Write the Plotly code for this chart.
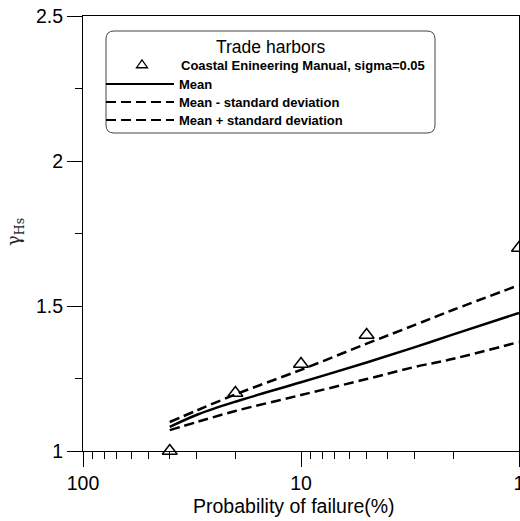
import plotly.graph_objects as go

# Observed safety factors for trade harbors
obs_prob = [40, 20, 10, 5, 1]          # probability of failure (%)
obs_gamma = [1.0, 1.2, 1.3, 1.4, 1.7]

# Fitted partial safety factor curves
fit_prob = [40, 30, 20, 10, 5, 3, 2, 1]
fit_mean = [1.083, 1.125, 1.17, 1.237, 1.305, 1.358, 1.402, 1.476]
fit_lower = [1.072, 1.10, 1.138, 1.193, 1.248, 1.29, 1.318, 1.376]
fit_upper = [1.10, 1.14, 1.195, 1.28, 1.37, 1.435, 1.487, 1.572]

x_tickvals = [100, 10, 1]
x_ticktext = ["100", "10", "1"]
x_minor = [90, 80, 70, 60, 50, 40, 30, 20, 9, 8, 7, 6, 5, 4, 3, 2]
y_tickvals = [1, 1.5, 2, 2.5]
y_ticktext = ["1", "1.5", "2", "2.5"]
y_minor = [1.25, 1.75, 2.25]

legend_title = "Trade harbors"
legend_labels = ["Coastal Enineering Manual, sigma=0.05", "Mean",
                 "Mean - standard deviation", "Mean + standard deviation"]

FONT = "Liberation Sans, Arial, sans-serif"
W, H = 520, 521
L, R, T, B = 83, 1, 16, 70
PW, PH = W - L - R, H - T - B


def px(x):
    return (x - L) / PW


def py(y):
    return (H - B - y) / PH


fig = go.Figure()

fig.add_trace(go.Scatter(x=fit_prob, y=fit_upper, mode="lines",
                         line=dict(color="black", width=2.5, dash="10px,5px", shape="spline"),
                         showlegend=False))
fig.add_trace(go.Scatter(x=fit_prob, y=fit_lower, mode="lines",
                         line=dict(color="black", width=2.5, dash="10px,5px", shape="spline"),
                         showlegend=False))
fig.add_trace(go.Scatter(x=fit_prob, y=fit_mean, mode="lines",
                         line=dict(color="black", width=2.5, shape="spline"),
                         showlegend=False))
fig.add_trace(go.Scatter(x=obs_prob, y=obs_gamma, mode="markers", cliponaxis=False,
                         marker=dict(symbol="triangle-up-open", size=13,
                                     color="black", line=dict(width=1.5, color="black")),
                         showlegend=False))

# Legend box with rounded corners
x0, x1, y0, y1, r = 106, 435, 31, 133, 8
rx, ry = r / PW, r / PH
X0, X1, Y0, Y1 = px(x0), px(x1), py(y0), py(y1)
path = (f"M {X0 + rx} {Y0} L {X1 - rx} {Y0} Q {X1} {Y0} {X1} {Y0 - ry} "
        f"L {X1} {Y1 + ry} Q {X1} {Y1} {X1 - rx} {Y1} "
        f"L {X0 + rx} {Y1} Q {X0} {Y1} {X0} {Y1 + ry} "
        f"L {X0} {Y0 - ry} Q {X0} {Y0} {X0 + rx} {Y0} Z")
shapes = [dict(type="path", xref="paper", yref="paper", path=path,
               line=dict(color="#444", width=1), fillcolor="white", layer="below")]

rows = [65, 84, 102, 120]
# triangle symbol sample
tx, ty, ts = 142, rows[0], 5.5
tri = (f"M {px(tx - ts)} {py(ty + ts * 0.5)} L {px(tx + ts)} {py(ty + ts * 0.5)} "
       f"L {px(tx)} {py(ty - ts * 0.95)} Z")
shapes.append(dict(type="path", xref="paper", yref="paper", path=tri,
                   line=dict(color="black", width=1.3)))
for yy, dash in zip(rows[1:], ["solid", "10px,5px", "10px,5px"]):
    shapes.append(dict(type="line", xref="paper", yref="paper",
                       x0=px(106), x1=px(174), y0=py(yy), y1=py(yy),
                       line=dict(color="black", width=2.2, dash=dash)))

annotations = [
    dict(text=legend_title, x=px(270.5), y=py(47), xref="paper", yref="paper",
         showarrow=False, xanchor="center", yanchor="middle",
         font=dict(family=FONT, size=17.5, color="black")),
    dict(text="<b>" + legend_labels[0] + "</b>", x=px(179), y=py(rows[0]), xref="paper",
         yref="paper", showarrow=False, xanchor="left", yanchor="middle",
         font=dict(family=FONT, size=13, color="black")),
]
for yy, lab in zip(rows[1:], legend_labels[1:]):
    annotations.append(dict(text="<b>" + lab + "</b>", x=px(177), y=py(yy), xref="paper",
                            yref="paper", showarrow=False, xanchor="left", yanchor="middle",
                            font=dict(family=FONT, size=13, color="black")))

annotations.append(dict(text="Probability of failure(%)", x=px(293.5), y=py(506),
                        xref="paper", yref="paper", showarrow=False,
                        xanchor="center", yanchor="middle",
                        font=dict(family=FONT, size=19.5, color="black")))
annotations.append(dict(text="γ<sub>Hs</sub>", x=px(15), y=py(232),
                        xref="paper", yref="paper", showarrow=False, textangle=-90,
                        xanchor="center", yanchor="middle",
                        font=dict(family="DejaVu Serif, " + FONT, size=18, color="#222")))

fig.update_layout(
    width=W, height=H,
    margin=dict(l=L, r=R, t=T, b=B, autoexpand=False),
    paper_bgcolor="white", plot_bgcolor="white",
    shapes=shapes, annotations=annotations,
    showlegend=False,
    xaxis=dict(type="log", range=[2, 0], showline=True, linecolor="black", linewidth=1,
               mirror=True, ticks="outside", ticklen=15, tickwidth=1, tickcolor="black",
               tickvals=x_tickvals, ticktext=x_ticktext, showgrid=False, zeroline=False,
               ticklabeloverflow="allow", automargin=False,
               tickfont=dict(family=FONT, size=19.5, color="black"),
               minor=dict(tickvals=x_minor, ticks="outside", ticklen=7, tickwidth=1,
                          tickcolor="black", showgrid=False)),
    yaxis=dict(range=[1, 2.5], showline=True, linecolor="black", linewidth=1,
               mirror=True, ticks="outside", ticklen=15, tickwidth=1, tickcolor="black",
               tickvals=y_tickvals, ticktext=y_ticktext, showgrid=False, zeroline=False,
               ticklabeloverflow="allow", automargin=False,
               tickfont=dict(family=FONT, size=19.5, color="black"),
               minor=dict(tickvals=y_minor, ticks="outside", ticklen=7, tickwidth=1,
                          tickcolor="black", showgrid=False)),
)

fig.write_html("out.html")
